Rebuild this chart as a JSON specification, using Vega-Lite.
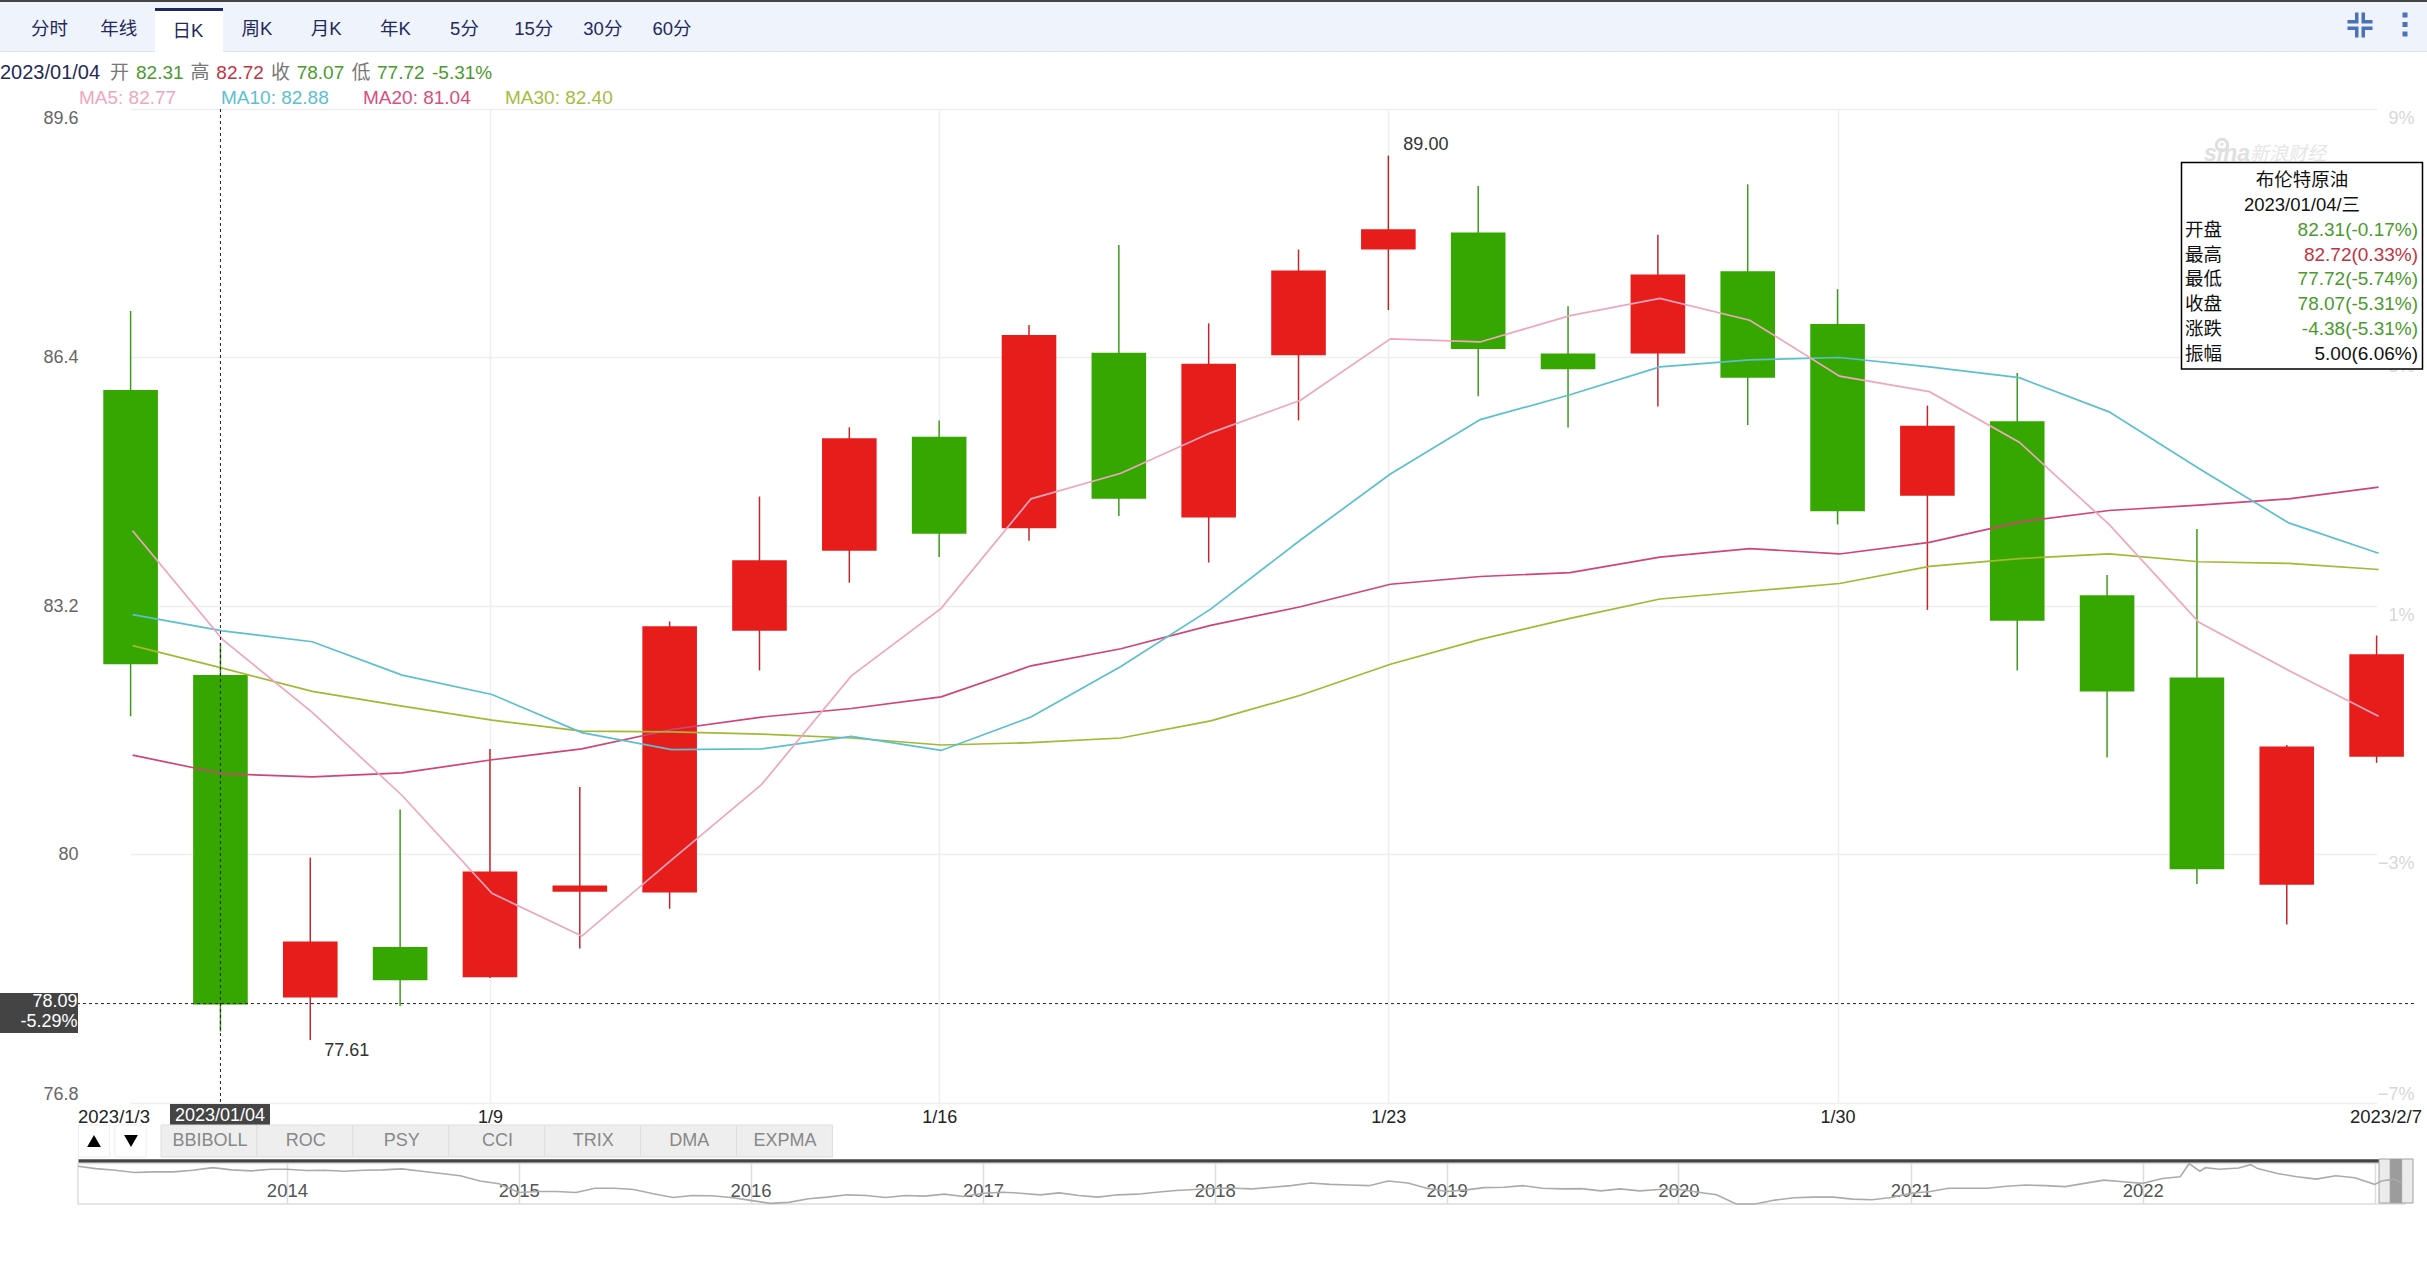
{
  "$schema": "https://vega.github.io/schema/vega-lite/v6.json",
  "width": 2336,
  "height": 994,
  "autosize": "none",
  "padding": {"left": 78, "top": 109, "right": 13, "bottom": 163},
  "background": "#ffffff",
  "config": {"font": "Liberation Sans, Noto Sans CJK SC", "view": {"stroke": null}},
  "resolve": {"scale": {"x": "independent", "y": "independent", "color": "independent"}},
  "layer": [
    {
      "data": {"values": [{"part": "strip"}]},
      "mark": {"type": "rect", "color": "#454545"},
      "encoding": {
        "x": {"field": "part", "type": "nominal", "axis": null, "scale": {"type": "band", "range": [-78, 2349], "padding": 0}},
        "y": {"field": "part", "type": "nominal", "axis": null, "scale": {"type": "band", "range": [-109, -107], "padding": 0}}
      }
    },
    {
      "data": {"values": [{"part": "toolbar"}]},
      "mark": {"type": "rect", "color": "#EEF3FC"},
      "encoding": {
        "x": {"field": "part", "type": "nominal", "axis": null, "scale": {"type": "band", "range": [-78, 2349], "padding": 0}},
        "y": {"field": "part", "type": "nominal", "axis": null, "scale": {"type": "band", "range": [-107, -58], "padding": 0}}
      }
    },
    {
      "data": {"values": [{"part": "edge"}]},
      "mark": {"type": "rect", "color": "#DDE3EE"},
      "encoding": {
        "x": {"field": "part", "type": "nominal", "axis": null, "scale": {"type": "band", "range": [-78, 2349], "padding": 0}},
        "y": {"field": "part", "type": "nominal", "axis": null, "scale": {"type": "band", "range": [-58, -57], "padding": 0}}
      }
    },
    {
      "data": {"values": [{"part": "active"}]},
      "mark": {"type": "rect", "color": "#ffffff"},
      "encoding": {
        "x": {"field": "part", "type": "nominal", "axis": null, "scale": {"type": "band", "range": [77, 145], "padding": 0}},
        "y": {"field": "part", "type": "nominal", "axis": null, "scale": {"type": "band", "range": [-101, -57], "padding": 0}}
      }
    },
    {
      "data": {"values": [{"part": "accent"}]},
      "mark": {"type": "rect", "color": "#1A2A5E"},
      "encoding": {
        "x": {"field": "part", "type": "nominal", "axis": null, "scale": {"type": "band", "range": [77, 145], "padding": 0}},
        "y": {"field": "part", "type": "nominal", "axis": null, "scale": {"type": "band", "range": [-101, -98], "padding": 0}}
      }
    },
    {
      "data": {"values": [
        {"tab": "分时", "state": "normal"},
        {"tab": "年线", "state": "normal"},
        {"tab": "日K", "state": "active"},
        {"tab": "周K", "state": "normal"},
        {"tab": "月K", "state": "normal"},
        {"tab": "年K", "state": "normal"},
        {"tab": "5分", "state": "normal"},
        {"tab": "15分", "state": "normal"},
        {"tab": "30分", "state": "normal"},
        {"tab": "60分", "state": "normal"}
      ]},
      "mark": {"type": "text", "fontSize": 18.5, "color": "#1F2A5A", "align": "center", "baseline": "middle"},
      "encoding": {
        "text": {"field": "tab"},
        "x": {"field": "tab", "type": "nominal", "sort": null, "axis": null, "scale": {"type": "point", "padding": 0, "range": [-28.5, 594]}},
        "y": {"field": "state", "type": "nominal", "axis": null, "scale": {"type": "point", "padding": 0, "domain": ["normal", "active"], "range": [-80, -78]}}
      }
    },
    {
      "data": {"values": [{"icon": "collapse"}]},
      "mark": {"type": "point", "filled": true, "color": "#4A72B8", "opacity": 1, "size": 625,
        "shape": "M-0.4,-1H-0.12V-0.12H-1V-0.4H-0.4ZM0.12,-1H0.4V-0.4H1V-0.12H0.12ZM-1,0.12H-0.12V1H-0.4V0.4H-1ZM0.12,0.12H1V0.4H0.4V1H0.12Z"},
      "encoding": {
        "x": {"field": "icon", "type": "nominal", "axis": null, "scale": {"type": "point", "range": [2282, 2282]}},
        "y": {"field": "icon", "type": "nominal", "axis": null, "scale": {"type": "point", "range": [-84, -84]}}
      }
    },
    {
      "data": {"values": [{"icon": "menu", "dot": "a"}, {"icon": "menu", "dot": "b"}, {"icon": "menu", "dot": "c"}]},
      "mark": {"type": "point", "filled": true, "color": "#4A72B8", "opacity": 1, "size": 25, "shape": "square"},
      "encoding": {
        "x": {"field": "icon", "type": "nominal", "axis": null, "scale": {"type": "point", "range": [2327, 2327]}},
        "y": {"field": "dot", "type": "nominal", "axis": null, "scale": {"type": "point", "padding": 0, "range": [-94, -75]}}
      }
    },
    {
      "data": {"values": [{"t": "2023/01/04", "row": "ohlc"}]},
      "mark": {"type": "text", "fontSize": 20, "color": "#1F2A5A", "align": "left", "baseline": "middle"},
      "encoding": {
        "text": {"field": "t"},
        "x": {"field": "t", "type": "nominal", "axis": null, "scale": {"type": "point", "range": [-78, -78]}},
        "y": {"field": "row", "type": "nominal", "axis": null, "scale": {"type": "point", "range": [-36, -36]}}
      }
    },
    {
      "data": {"values": [
        {"t": "开", "row": "ohlc", "tone": "label"},
        {"t": "高", "row": "ohlc", "tone": "label"},
        {"t": "收", "row": "ohlc", "tone": "label"},
        {"t": "低", "row": "ohlc", "tone": "label"},
        {"t": "-5.31%", "row": "ohlc", "tone": "down"}
      ]},
      "mark": {"type": "text", "fontSize": 19, "align": "left", "baseline": "middle"},
      "encoding": {
        "text": {"field": "t"},
        "x": {"field": "t", "type": "nominal", "sort": null, "axis": null, "scale": {"type": "point", "padding": 0, "range": [32, 354]}},
        "y": {"field": "row", "type": "nominal", "axis": null, "scale": {"type": "point", "range": [-36, -36]}},
        "color": {"field": "tone", "type": "nominal", "legend": null, "scale": {"domain": ["label", "down"], "range": ["#777777", "#4A9A2C"]}}
      }
    },
    {
      "data": {"values": [
        {"t": "82.31", "row": "ohlc", "tone": "down"},
        {"t": "82.72", "row": "ohlc", "tone": "up"},
        {"t": "78.07", "row": "ohlc", "tone": "down"},
        {"t": "77.72", "row": "ohlc", "tone": "down"}
      ]},
      "mark": {"type": "text", "fontSize": 19, "align": "left", "baseline": "middle"},
      "encoding": {
        "text": {"field": "t"},
        "x": {"field": "t", "type": "nominal", "sort": null, "axis": null, "scale": {"type": "point", "padding": 0, "range": [58, 299]}},
        "y": {"field": "row", "type": "nominal", "axis": null, "scale": {"type": "point", "range": [-36, -36]}},
        "color": {"field": "tone", "type": "nominal", "legend": null, "scale": {"domain": ["up", "down"], "range": ["#C2333F", "#4A9A2C"]}}
      }
    },
    {
      "data": {"values": [
        {"t": "MA5: 82.77", "row": "ma", "series": "MA5"},
        {"t": "MA10: 82.88", "row": "ma", "series": "MA10"},
        {"t": "MA20: 81.04", "row": "ma", "series": "MA20"},
        {"t": "MA30: 82.40", "row": "ma", "series": "MA30"}
      ]},
      "mark": {"type": "text", "fontSize": 19, "align": "left", "baseline": "middle"},
      "encoding": {
        "text": {"field": "t"},
        "x": {"field": "t", "type": "nominal", "sort": null, "axis": null, "scale": {"type": "point", "padding": 0, "range": [1, 427]}},
        "y": {"field": "row", "type": "nominal", "axis": null, "scale": {"type": "point", "range": [-11, -11]}},
        "color": {"field": "series", "type": "nominal", "legend": null, "scale": {"domain": ["MA5", "MA10", "MA20", "MA30"], "range": ["#EFA6C0", "#5BBFD0", "#D94D80", "#A8BA3C"]}}
      }
    },
    {
      "data": {"values": [{"pct": 9, "col": "pct"}, {"pct": -7, "col": "pct"}]},
      "mark": {"type": "point", "opacity": 0},
      "encoding": {
        "x": {"field": "col", "type": "nominal", "axis": null, "scale": {"type": "point", "range": [2336, 2336]}},
        "y": {
          "field": "pct", "type": "quantitative",
          "scale": {"domain": [-7, 9], "range": [994, 0], "nice": false, "zero": false},
          "axis": {"orient": "right", "values": [9, 5, 1, -3, -7], "format": "d", "labelExpr": "datum.label + '%'", "title": null, "domain": false, "ticks": false, "grid": false, "labelAlign": "right", "labelPadding": 0, "labelBaseline": {"condition": {"test": "datum.value == -7", "value": "bottom"}, "value": "top"}, "labelColor": "#D8D8D8", "labelFontSize": 18}
        }
      }
    },
    {
      "data": {"values": [{"t": "logo"}]},
      "mark": {"type": "point", "filled": false, "color": "#DEDEDE", "opacity": 1, "size": 130, "strokeWidth": 3},
      "encoding": {
        "x": {"field": "t", "type": "nominal", "axis": null, "scale": {"type": "point", "range": [2144, 2144]}},
        "y": {"field": "t", "type": "nominal", "axis": null, "scale": {"type": "point", "range": [36, 36]}}
      }
    },
    {
      "data": {"values": [{"t": "sina"}]},
      "mark": {"type": "text", "fontSize": 23, "fontWeight": "bold", "fontStyle": "italic", "color": "#E0E0E0", "align": "left", "baseline": "middle"},
      "encoding": {
        "text": {"field": "t"},
        "x": {"field": "t", "type": "nominal", "axis": null, "scale": {"type": "point", "range": [2126, 2126]}},
        "y": {"field": "t", "type": "nominal", "axis": null, "scale": {"type": "point", "range": [45, 45]}}
      }
    },
    {
      "data": {"values": [{"t": "新浪财经"}]},
      "mark": {"type": "text", "fontSize": 19, "fontStyle": "italic", "color": "#E6E6E6", "align": "left", "baseline": "middle"},
      "encoding": {
        "text": {"field": "t"},
        "x": {"field": "t", "type": "nominal", "axis": null, "scale": {"type": "point", "range": [2172, 2172]}},
        "y": {"field": "t", "type": "nominal", "axis": null, "scale": {"type": "point", "range": [45, 45]}}
      }
    },
    {
      "layer": [
        {
          "data": {"name": "candles", "values": [
            {"date": "1/3", "open": 85.98, "close": 82.45, "high": 87.0, "low": 81.78},
            {"date": "1/4", "open": 82.31, "close": 78.07, "high": 82.72, "low": 77.72},
            {"date": "1/5", "open": 78.16, "close": 78.88, "high": 79.96, "low": 77.61},
            {"date": "1/6", "open": 78.81, "close": 78.38, "high": 80.58, "low": 78.05},
            {"date": "1/9", "open": 78.42, "close": 79.78, "high": 81.36, "low": 78.41},
            {"date": "1/10", "open": 79.52, "close": 79.6, "high": 80.87, "low": 78.79},
            {"date": "1/11", "open": 79.51, "close": 82.94, "high": 83.0, "low": 79.3},
            {"date": "1/12", "open": 82.88, "close": 83.79, "high": 84.61, "low": 82.37},
            {"date": "1/13", "open": 83.91, "close": 85.36, "high": 85.5, "low": 83.5},
            {"date": "1/16", "open": 85.38, "close": 84.13, "high": 85.59, "low": 83.83},
            {"date": "1/17", "open": 84.2, "close": 86.69, "high": 86.82, "low": 84.04},
            {"date": "1/18", "open": 86.46, "close": 84.58, "high": 87.85, "low": 84.36},
            {"date": "1/19", "open": 84.34, "close": 86.32, "high": 86.84, "low": 83.76},
            {"date": "1/20", "open": 86.43, "close": 87.52, "high": 87.79, "low": 85.59},
            {"date": "1/23", "open": 87.79, "close": 88.05, "high": 89.0, "low": 87.01},
            {"date": "1/24", "open": 88.01, "close": 86.51, "high": 88.61, "low": 85.9},
            {"date": "1/25", "open": 86.45, "close": 86.25, "high": 87.06, "low": 85.5},
            {"date": "1/26", "open": 86.45, "close": 87.47, "high": 87.98, "low": 85.77},
            {"date": "1/27", "open": 87.51, "close": 86.14, "high": 88.63, "low": 85.53},
            {"date": "1/30", "open": 86.83, "close": 84.42, "high": 87.28, "low": 84.25},
            {"date": "1/31", "open": 84.62, "close": 85.52, "high": 85.78, "low": 83.15},
            {"date": "2/1", "open": 85.58, "close": 83.01, "high": 86.2, "low": 82.37},
            {"date": "2/2", "open": 83.34, "close": 82.1, "high": 83.6, "low": 81.25},
            {"date": "2/3", "open": 82.28, "close": 79.81, "high": 84.19, "low": 79.62},
            {"date": "2/6", "open": 79.61, "close": 81.39, "high": 81.41, "low": 79.1},
            {"date": "2/7", "open": 81.26, "close": 82.58, "high": 82.82, "low": 81.18}
          ]},
          "mark": {"type": "rule", "strokeWidth": 1.5},
          "encoding": {
            "x": {
              "field": "date", "type": "nominal", "sort": null, "title": null,
              "scale": {"type": "point", "padding": 0, "range": [52.6, 2298.6]},
              "axis": {"values": ["1/9", "1/16", "1/23", "1/30"], "labelAngle": 0, "domain": false, "ticks": false, "grid": true, "gridColor": "#EEEEEE", "gridWidth": 1.5, "labelFontSize": 18, "labelColor": "#222222", "labelPadding": 5}
            },
            "y": {
              "field": "low", "type": "quantitative", "title": null,
              "scale": {"domain": [76.8, 89.6], "range": [994, 0], "nice": false, "zero": false},
              "axis": {"values": [76.8, 80, 83.2, 86.4, 89.6], "format": ".3~r", "domain": false, "ticks": false, "grid": true, "gridColor": "#EEEEEE", "gridWidth": 1.5, "labelFontSize": 18, "labelColor": "#666666", "labelPadding": 0, "labelFlush": true}
            },
            "y2": {"field": "high"},
            "color": {"condition": {"test": "datum.close >= datum.open", "value": "#C0272D"}, "value": "#3E9A1E"}
          }
        },
        {
          "data": {"name": "candles"},
          "mark": {"type": "bar", "size": 54.6},
          "encoding": {
            "x": {"field": "date", "type": "nominal", "sort": null},
            "y": {"field": "open", "type": "quantitative"},
            "y2": {"field": "close"},
            "color": {"condition": {"test": "datum.close >= datum.open", "value": "#E71D1C"}, "value": "#36A600"}
          }
        },
        {
          "data": {"values": [
            {"date": "1/3", "series": "MA20", "value": 81.28},
            {"date": "1/4", "series": "MA20", "value": 81.04},
            {"date": "1/5", "series": "MA20", "value": 81.0},
            {"date": "1/6", "series": "MA20", "value": 81.05},
            {"date": "1/9", "series": "MA20", "value": 81.22},
            {"date": "1/10", "series": "MA20", "value": 81.36},
            {"date": "1/11", "series": "MA20", "value": 81.61},
            {"date": "1/12", "series": "MA20", "value": 81.77},
            {"date": "1/13", "series": "MA20", "value": 81.88},
            {"date": "1/16", "series": "MA20", "value": 82.03},
            {"date": "1/17", "series": "MA20", "value": 82.43},
            {"date": "1/18", "series": "MA20", "value": 82.65},
            {"date": "1/19", "series": "MA20", "value": 82.95},
            {"date": "1/20", "series": "MA20", "value": 83.19},
            {"date": "1/23", "series": "MA20", "value": 83.48},
            {"date": "1/24", "series": "MA20", "value": 83.58},
            {"date": "1/25", "series": "MA20", "value": 83.63},
            {"date": "1/26", "series": "MA20", "value": 83.83},
            {"date": "1/27", "series": "MA20", "value": 83.94},
            {"date": "1/30", "series": "MA20", "value": 83.87},
            {"date": "1/31", "series": "MA20", "value": 84.02},
            {"date": "2/1", "series": "MA20", "value": 84.28},
            {"date": "2/2", "series": "MA20", "value": 84.43},
            {"date": "2/3", "series": "MA20", "value": 84.5},
            {"date": "2/6", "series": "MA20", "value": 84.58},
            {"date": "2/7", "series": "MA20", "value": 84.73},
            {"date": "1/3", "series": "MA30", "value": 82.69},
            {"date": "1/4", "series": "MA30", "value": 82.4},
            {"date": "1/5", "series": "MA30", "value": 82.1},
            {"date": "1/6", "series": "MA30", "value": 81.91},
            {"date": "1/9", "series": "MA30", "value": 81.73},
            {"date": "1/10", "series": "MA30", "value": 81.59},
            {"date": "1/11", "series": "MA30", "value": 81.58},
            {"date": "1/12", "series": "MA30", "value": 81.55},
            {"date": "1/13", "series": "MA30", "value": 81.5},
            {"date": "1/16", "series": "MA30", "value": 81.41},
            {"date": "1/17", "series": "MA30", "value": 81.44},
            {"date": "1/18", "series": "MA30", "value": 81.5},
            {"date": "1/19", "series": "MA30", "value": 81.72},
            {"date": "1/20", "series": "MA30", "value": 82.05},
            {"date": "1/23", "series": "MA30", "value": 82.45},
            {"date": "1/24", "series": "MA30", "value": 82.77},
            {"date": "1/25", "series": "MA30", "value": 83.04},
            {"date": "1/26", "series": "MA30", "value": 83.29},
            {"date": "1/27", "series": "MA30", "value": 83.39},
            {"date": "1/30", "series": "MA30", "value": 83.49},
            {"date": "1/31", "series": "MA30", "value": 83.71},
            {"date": "2/1", "series": "MA30", "value": 83.81},
            {"date": "2/2", "series": "MA30", "value": 83.87},
            {"date": "2/3", "series": "MA30", "value": 83.77},
            {"date": "2/6", "series": "MA30", "value": 83.75},
            {"date": "2/7", "series": "MA30", "value": 83.67},
            {"date": "1/3", "series": "MA10", "value": 83.09},
            {"date": "1/4", "series": "MA10", "value": 82.88},
            {"date": "1/5", "series": "MA10", "value": 82.74},
            {"date": "1/6", "series": "MA10", "value": 82.31},
            {"date": "1/9", "series": "MA10", "value": 82.06},
            {"date": "1/10", "series": "MA10", "value": 81.57},
            {"date": "1/11", "series": "MA10", "value": 81.35},
            {"date": "1/12", "series": "MA10", "value": 81.36},
            {"date": "1/13", "series": "MA10", "value": 81.52},
            {"date": "1/16", "series": "MA10", "value": 81.34},
            {"date": "1/17", "series": "MA10", "value": 81.77},
            {"date": "1/18", "series": "MA10", "value": 82.42},
            {"date": "1/19", "series": "MA10", "value": 83.16},
            {"date": "1/20", "series": "MA10", "value": 84.05},
            {"date": "1/23", "series": "MA10", "value": 84.9},
            {"date": "1/24", "series": "MA10", "value": 85.6},
            {"date": "1/25", "series": "MA10", "value": 85.92},
            {"date": "1/26", "series": "MA10", "value": 86.28},
            {"date": "1/27", "series": "MA10", "value": 86.37},
            {"date": "1/30", "series": "MA10", "value": 86.4},
            {"date": "1/31", "series": "MA10", "value": 86.28},
            {"date": "2/1", "series": "MA10", "value": 86.14},
            {"date": "2/2", "series": "MA10", "value": 85.7},
            {"date": "2/3", "series": "MA10", "value": 84.97},
            {"date": "2/6", "series": "MA10", "value": 84.27},
            {"date": "2/7", "series": "MA10", "value": 83.88},
            {"date": "1/3", "series": "MA5", "value": 84.17},
            {"date": "1/4", "series": "MA5", "value": 82.77},
            {"date": "1/5", "series": "MA5", "value": 81.83},
            {"date": "1/6", "series": "MA5", "value": 80.76},
            {"date": "1/9", "series": "MA5", "value": 79.5},
            {"date": "1/10", "series": "MA5", "value": 78.95},
            {"date": "1/11", "series": "MA5", "value": 79.93},
            {"date": "1/12", "series": "MA5", "value": 80.9},
            {"date": "1/13", "series": "MA5", "value": 82.3},
            {"date": "1/16", "series": "MA5", "value": 83.17},
            {"date": "1/17", "series": "MA5", "value": 84.58},
            {"date": "1/18", "series": "MA5", "value": 84.91},
            {"date": "1/19", "series": "MA5", "value": 85.43},
            {"date": "1/20", "series": "MA5", "value": 85.85},
            {"date": "1/23", "series": "MA5", "value": 86.64},
            {"date": "1/24", "series": "MA5", "value": 86.6},
            {"date": "1/25", "series": "MA5", "value": 86.94},
            {"date": "1/26", "series": "MA5", "value": 87.16},
            {"date": "1/27", "series": "MA5", "value": 86.88},
            {"date": "1/30", "series": "MA5", "value": 86.16},
            {"date": "1/31", "series": "MA5", "value": 85.96},
            {"date": "2/1", "series": "MA5", "value": 85.31},
            {"date": "2/2", "series": "MA5", "value": 84.25},
            {"date": "2/3", "series": "MA5", "value": 82.99},
            {"date": "2/6", "series": "MA5", "value": 82.37},
            {"date": "2/7", "series": "MA5", "value": 81.78}
          ]},
          "mark": {"type": "line", "strokeWidth": 1.7, "xOffset": 2},
          "encoding": {
            "x": {"field": "date", "type": "nominal", "sort": null},
            "y": {"field": "value", "type": "quantitative"},
            "color": {"field": "series", "type": "nominal", "legend": null, "sort": null, "scale": {"domain": ["MA5", "MA10", "MA20", "MA30"], "range": ["#EFA6C0", "#5BBFD0", "#D0447A", "#A3B833"]}}
          }
        },
        {
          "data": {"values": [{"date": "1/4"}]},
          "mark": {"type": "rule", "color": "#222222", "strokeDash": [3, 3], "strokeWidth": 1},
          "encoding": {"x": {"field": "date", "type": "nominal", "sort": null}}
        },
        {
          "data": {"values": [{"price": 78.08}]},
          "mark": {"type": "rule", "color": "#222222", "strokeDash": [3, 3], "strokeWidth": 1},
          "encoding": {"y": {"field": "price", "type": "quantitative"}}
        },
        {
          "data": {"values": [{"date": "1/5", "low": 77.61, "label": "77.61"}]},
          "mark": {"type": "text", "fontSize": 18, "color": "#333333", "align": "left", "baseline": "middle", "dx": 14, "dy": 11},
          "encoding": {
            "x": {"field": "date", "type": "nominal", "sort": null},
            "y": {"field": "low", "type": "quantitative"},
            "text": {"field": "label"}
          }
        },
        {
          "data": {"values": [{"date": "1/23", "high": 89.0, "label": "89.00"}]},
          "mark": {"type": "text", "fontSize": 18, "color": "#333333", "align": "left", "baseline": "middle", "dx": 15, "dy": -11},
          "encoding": {
            "x": {"field": "date", "type": "nominal", "sort": null},
            "y": {"field": "high", "type": "quantitative"},
            "text": {"field": "label"}
          }
        }
      ]
    },
    {
      "data": {"values": [{"part": "priceTag"}]},
      "mark": {"type": "rect", "color": "#444444"},
      "encoding": {
        "x": {"field": "part", "type": "nominal", "axis": null, "scale": {"type": "band", "range": [-78, 0], "padding": 0}},
        "y": {"field": "part", "type": "nominal", "axis": null, "scale": {"type": "band", "range": [884, 924], "padding": 0}}
      }
    },
    {
      "data": {"values": [{"t": "78.09", "col": "tag"}, {"t": "-5.29%", "col": "tag"}]},
      "mark": {"type": "text", "fontSize": 18, "color": "#ffffff", "align": "right", "baseline": "middle"},
      "encoding": {
        "text": {"field": "t"},
        "x": {"field": "col", "type": "nominal", "axis": null, "scale": {"type": "point", "range": [-0.5, -0.5]}},
        "y": {"field": "t", "type": "nominal", "sort": null, "axis": null, "scale": {"type": "point", "padding": 0, "range": [893, 913]}}
      }
    },
    {
      "data": {"values": [{"part": "dateTag"}]},
      "mark": {"type": "rect", "color": "#444444"},
      "encoding": {
        "x": {"field": "part", "type": "nominal", "axis": null, "scale": {"type": "band", "range": [92, 192], "padding": 0}},
        "y": {"field": "part", "type": "nominal", "axis": null, "scale": {"type": "band", "range": [995, 1017.5], "padding": 0}}
      }
    },
    {
      "data": {"values": [{"t": "2023/01/04"}]},
      "mark": {"type": "text", "fontSize": 18, "color": "#ffffff", "align": "center", "baseline": "middle"},
      "encoding": {
        "text": {"field": "t"},
        "x": {"field": "t", "type": "nominal", "axis": null, "scale": {"type": "point", "range": [142, 142]}},
        "y": {"field": "t", "type": "nominal", "axis": null, "scale": {"type": "point", "range": [1007, 1007]}}
      }
    },
    {
      "data": {"values": [{"t": "2023/1/3"}]},
      "mark": {"type": "text", "fontSize": 18.5, "color": "#222222", "align": "left", "baseline": "middle"},
      "encoding": {
        "text": {"field": "t"},
        "x": {"field": "t", "type": "nominal", "axis": null, "scale": {"type": "point", "range": [0, 0]}},
        "y": {"field": "t", "type": "nominal", "axis": null, "scale": {"type": "point", "range": [1008, 1008]}}
      }
    },
    {
      "data": {"values": [{"t": "2023/2/7"}]},
      "mark": {"type": "text", "fontSize": 18.5, "color": "#222222", "align": "right", "baseline": "middle"},
      "encoding": {
        "text": {"field": "t"},
        "x": {"field": "t", "type": "nominal", "axis": null, "scale": {"type": "point", "range": [2344, 2344]}},
        "y": {"field": "t", "type": "nominal", "axis": null, "scale": {"type": "point", "range": [1008, 1008]}}
      }
    },
    {
      "data": {"values": [{"part": "up", "row": "arrows"}, {"part": "down", "row": "arrows"}]},
      "mark": {"type": "rect", "color": "#ffffff", "stroke": "#EEEEEE", "strokeWidth": 1},
      "encoding": {
        "x": {"field": "part", "type": "nominal", "sort": null, "axis": null, "scale": {"type": "band", "range": [0.5, 68], "paddingInner": 0.14, "paddingOuter": 0}},
        "y": {"field": "row", "type": "nominal", "axis": null, "scale": {"type": "band", "range": [1016, 1048], "padding": 0}}
      }
    },
    {
      "data": {"values": [{"dir": "up", "shape": "triangle-up"}, {"dir": "down", "shape": "triangle-down"}]},
      "mark": {"type": "point", "filled": true, "color": "#000000", "opacity": 1, "size": 190},
      "encoding": {
        "x": {"field": "dir", "type": "nominal", "sort": null, "axis": null, "scale": {"type": "point", "padding": 0, "range": [16, 53]}},
        "y": {"field": "shape", "type": "nominal", "axis": null, "scale": {"type": "point", "padding": 0, "range": [1032, 1032]}},
        "shape": {"field": "shape", "type": "nominal", "legend": null, "scale": null}
      }
    },
    {
      "data": {"values": [
        {"name": "BBIBOLL", "row": "ind"},
        {"name": "ROC", "row": "ind"},
        {"name": "PSY", "row": "ind"},
        {"name": "CCI", "row": "ind"},
        {"name": "TRIX", "row": "ind"},
        {"name": "DMA", "row": "ind"},
        {"name": "EXPMA", "row": "ind"}
      ]},
      "mark": {"type": "rect", "color": "#EEEEEE", "stroke": "#DDDDDD", "strokeWidth": 1},
      "encoding": {
        "x": {"field": "name", "type": "nominal", "sort": null, "axis": null, "scale": {"type": "band", "padding": 0, "range": [83, 754.4]}},
        "y": {"field": "row", "type": "nominal", "axis": null, "scale": {"type": "band", "padding": 0, "range": [1016, 1048]}}
      }
    },
    {
      "data": {"values": [
        {"name": "BBIBOLL", "row": "ind"},
        {"name": "ROC", "row": "ind"},
        {"name": "PSY", "row": "ind"},
        {"name": "CCI", "row": "ind"},
        {"name": "TRIX", "row": "ind"},
        {"name": "DMA", "row": "ind"},
        {"name": "EXPMA", "row": "ind"}
      ]},
      "mark": {"type": "text", "fontSize": 18, "color": "#888888", "align": "center", "baseline": "middle"},
      "encoding": {
        "text": {"field": "name"},
        "x": {"field": "name", "type": "nominal", "sort": null, "axis": null, "scale": {"type": "point", "padding": 0, "range": [132, 707]}},
        "y": {"field": "row", "type": "nominal", "axis": null, "scale": {"type": "point", "range": [1032, 1032]}}
      }
    },
    {
      "data": {"values": [{"part": "navFrame"}]},
      "mark": {"type": "rect", "fill": "transparent", "stroke": "#DDDDDD", "strokeWidth": 1.5},
      "encoding": {
        "x": {"field": "part", "type": "nominal", "axis": null, "scale": {"type": "band", "padding": 0, "range": [0, 2327]}},
        "y": {"field": "part", "type": "nominal", "axis": null, "scale": {"type": "band", "padding": 0, "range": [1054.5, 1095]}}
      }
    },
    {
      "data": {"values": [{"part": "handleL", "tone": "handle", "row": "sel"}, {"part": "window", "tone": "window", "row": "sel"}, {"part": "handleR", "tone": "handle", "row": "sel"}]},
      "mark": {"type": "rect", "stroke": "#A0A0A0", "strokeWidth": 1},
      "encoding": {
        "x": {"field": "part", "type": "nominal", "sort": null, "axis": null, "scale": {"type": "band", "padding": 0, "range": [2301, 2335]}},
        "y": {"field": "row", "type": "nominal", "axis": null, "scale": {"type": "band", "padding": 0, "range": [1050, 1094]}},
        "color": {"field": "tone", "type": "nominal", "legend": null, "scale": {"domain": ["handle", "window"], "range": ["#EBEBEB", "#9C9C9C"]}}
      }
    },
    {
      "data": {"values": [
        {"month": "2013-02-06", "price": 118.2}, {"month": "2013-03-06", "price": 112.2}, {"month": "2013-04-06", "price": 108}, {"month": "2013-05-06", "price": 102},
        {"month": "2013-06-06", "price": 103.7}, {"month": "2013-07-06", "price": 103.7}, {"month": "2013-08-06", "price": 108}, {"month": "2013-09-06", "price": 114.8},
        {"month": "2013-10-06", "price": 108.8}, {"month": "2013-11-06", "price": 106.3}, {"month": "2013-12-06", "price": 110.5}, {"month": "2014-01-01", "price": 110.5},
        {"month": "2014-02-01", "price": 107.1}, {"month": "2014-03-01", "price": 108}, {"month": "2014-04-01", "price": 105.4}, {"month": "2014-05-01", "price": 108},
        {"month": "2014-06-01", "price": 108.8}, {"month": "2014-07-01", "price": 111.4}, {"month": "2014-08-01", "price": 105.4}, {"month": "2014-09-01", "price": 99.4},
        {"month": "2014-10-01", "price": 93.4}, {"month": "2014-11-01", "price": 79.8}, {"month": "2014-12-01", "price": 72.9}, {"month": "2015-01-01", "price": 49.9},
        {"month": "2015-02-01", "price": 52.5}, {"month": "2015-03-01", "price": 52.5}, {"month": "2015-04-01", "price": 49.9}, {"month": "2015-05-01", "price": 61},
        {"month": "2015-06-01", "price": 61}, {"month": "2015-07-01", "price": 57.6}, {"month": "2015-08-01", "price": 46.5}, {"month": "2015-09-01", "price": 37.1},
        {"month": "2015-10-01", "price": 42.2}, {"month": "2015-11-01", "price": 41.4}, {"month": "2015-12-01", "price": 37.1}, {"month": "2016-01-01", "price": 29.4},
        {"month": "2016-02-01", "price": 21.7}, {"month": "2016-03-01", "price": 24.3}, {"month": "2016-04-01", "price": 33.7}, {"month": "2016-05-01", "price": 37.9},
        {"month": "2016-06-01", "price": 43.9}, {"month": "2016-07-01", "price": 42.2}, {"month": "2016-08-01", "price": 37.1}, {"month": "2016-09-01", "price": 42.2},
        {"month": "2016-10-01", "price": 40.5}, {"month": "2016-11-01", "price": 45.6}, {"month": "2016-12-01", "price": 39.6}, {"month": "2017-01-01", "price": 48.2},
        {"month": "2017-02-01", "price": 50.7}, {"month": "2017-03-01", "price": 48.2}, {"month": "2017-04-01", "price": 43.9}, {"month": "2017-05-01", "price": 49},
        {"month": "2017-06-01", "price": 42.2}, {"month": "2017-07-01", "price": 37.9}, {"month": "2017-08-01", "price": 43.9}, {"month": "2017-09-01", "price": 45.6},
        {"month": "2017-10-01", "price": 50.7}, {"month": "2017-11-01", "price": 55}, {"month": "2017-12-01", "price": 57.6}, {"month": "2018-01-01", "price": 61},
        {"month": "2018-02-01", "price": 61}, {"month": "2018-03-01", "price": 59.3}, {"month": "2018-04-01", "price": 63.6}, {"month": "2018-05-01", "price": 67.8},
        {"month": "2018-06-01", "price": 74.7}, {"month": "2018-07-01", "price": 71.2}, {"month": "2018-08-01", "price": 69.5}, {"month": "2018-09-01", "price": 67.8},
        {"month": "2018-10-01", "price": 79.8}, {"month": "2018-11-01", "price": 74.7}, {"month": "2018-12-01", "price": 61}, {"month": "2019-01-01", "price": 52.5},
        {"month": "2019-02-01", "price": 56.7}, {"month": "2019-03-01", "price": 62.7}, {"month": "2019-04-01", "price": 63.6}, {"month": "2019-05-01", "price": 67.8},
        {"month": "2019-06-01", "price": 61}, {"month": "2019-07-01", "price": 59.3}, {"month": "2019-08-01", "price": 60.1}, {"month": "2019-09-01", "price": 54.2},
        {"month": "2019-10-01", "price": 59.3}, {"month": "2019-11-01", "price": 54.2}, {"month": "2019-12-01", "price": 57.6}, {"month": "2020-01-01", "price": 58.4},
        {"month": "2020-02-01", "price": 50.7}, {"month": "2020-03-01", "price": 43.9}, {"month": "2020-04-01", "price": 20}, {"month": "2020-05-01", "price": 20},
        {"month": "2020-06-01", "price": 30.2}, {"month": "2020-07-01", "price": 36.2}, {"month": "2020-08-01", "price": 37.9}, {"month": "2020-09-01", "price": 37.9},
        {"month": "2020-10-01", "price": 32.8}, {"month": "2020-11-01", "price": 31.1}, {"month": "2020-12-01", "price": 37.1}, {"month": "2021-01-01", "price": 48.2},
        {"month": "2021-02-01", "price": 52.5}, {"month": "2021-03-01", "price": 61}, {"month": "2021-04-01", "price": 61}, {"month": "2021-05-01", "price": 61},
        {"month": "2021-06-01", "price": 66.1}, {"month": "2021-07-01", "price": 69.5}, {"month": "2021-08-01", "price": 67.8}, {"month": "2021-09-01", "price": 65.3},
        {"month": "2021-10-01", "price": 73.8}, {"month": "2021-11-01", "price": 82.3}, {"month": "2021-12-01", "price": 78.1}, {"month": "2022-01-01", "price": 73.8},
        {"month": "2022-02-01", "price": 86.6}, {"month": "2022-03-01", "price": 90.9}, {"month": "2022-03-15", "price": 125}, {"month": "2022-04-01", "price": 105.4},
        {"month": "2022-04-10", "price": 114.8}, {"month": "2022-05-01", "price": 110.5}, {"month": "2022-06-01", "price": 113.9}, {"month": "2022-06-20", "price": 122.5},
        {"month": "2022-07-01", "price": 112.2}, {"month": "2022-08-01", "price": 99.4}, {"month": "2022-09-01", "price": 90.9}, {"month": "2022-10-01", "price": 84.9},
        {"month": "2022-11-01", "price": 93.4}, {"month": "2022-12-01", "price": 88.3}, {"month": "2023-01-01", "price": 71.2}, {"month": "2023-01-12", "price": 79.8},
        {"month": "2023-02-01", "price": 84.9}, {"month": "2023-02-13", "price": 73.8}
      ]},
      "mark": {"type": "line", "color": "#ABABAB", "strokeWidth": 1.6},
      "encoding": {
        "x": {
          "field": "month", "type": "temporal", "title": null,
          "scale": {"domain": [{"year": 2013, "month": 2, "date": 6}, {"year": 2023, "month": 2, "date": 18}], "range": [0, 2327], "nice": false},
          "axis": {
            "orient": "bottom", "offset": 57.5,
            "values": [{"year": 2014, "month": 1, "date": 1}, {"year": 2015, "month": 1, "date": 1}, {"year": 2016, "month": 1, "date": 1}, {"year": 2017, "month": 1, "date": 1}, {"year": 2018, "month": 1, "date": 1}, {"year": 2019, "month": 1, "date": 1}, {"year": 2020, "month": 1, "date": 1}, {"year": 2021, "month": 1, "date": 1}, {"year": 2022, "month": 1, "date": 1}, {"year": 2023, "month": 1, "date": 1}],
            "format": "%Y", "labelExpr": "year(datum.value) >= 2023 ? '' : datum.label",
            "grid": false, "domain": true, "domainColor": "#444444", "domainWidth": 3.5,
            "ticks": true, "tickColor": "#DDDDDD", "tickSize": 43, "tickWidth": 1.5,
            "labelFontSize": 18.5, "labelColor": "#555555", "labelPadding": -22.5, "labelAngle": 0, "labelFlush": false, "labelOverlap": false, "zindex": 0
          }
        },
        "y": {"field": "price", "type": "quantitative", "axis": null, "scale": {"domain": [20, 125], "range": [1095, 1054.7], "nice": false, "zero": false}}
      }
    },
    {
      "data": {"values": [{"part": "box"}]},
      "mark": {"type": "rect", "fill": "#ffffff", "stroke": "#000000", "strokeWidth": 1.5},
      "encoding": {
        "x": {"field": "part", "type": "nominal", "axis": null, "scale": {"type": "band", "padding": 0, "range": [2103.5, 2344.5]}},
        "y": {"field": "part", "type": "nominal", "axis": null, "scale": {"type": "band", "padding": 0, "range": [53.5, 260]}}
      }
    },
    {
      "data": {"values": [{"t": "布伦特原油", "col": "mid", "row": "r1"}, {"t": "2023/01/04/三", "col": "mid", "row": "r2"}]},
      "mark": {"type": "text", "fontSize": 18.5, "color": "#111111", "align": "center", "baseline": "middle"},
      "encoding": {
        "text": {"field": "t"},
        "x": {"field": "col", "type": "nominal", "axis": null, "scale": {"type": "point", "range": [2224, 2224]}},
        "y": {"field": "row", "type": "nominal", "axis": null, "scale": {"type": "point", "padding": 0, "domain": ["r1", "r2", "r3", "r4", "r5", "r6", "r7", "r8"], "range": [71, 245]}}
      }
    },
    {
      "data": {"values": [
        {"t": "开盘", "col": "left", "row": "r3"},
        {"t": "最高", "col": "left", "row": "r4"},
        {"t": "最低", "col": "left", "row": "r5"},
        {"t": "收盘", "col": "left", "row": "r6"},
        {"t": "涨跌", "col": "left", "row": "r7"},
        {"t": "振幅", "col": "left", "row": "r8"}
      ]},
      "mark": {"type": "text", "fontSize": 18.5, "color": "#111111", "align": "left", "baseline": "middle"},
      "encoding": {
        "text": {"field": "t"},
        "x": {"field": "col", "type": "nominal", "axis": null, "scale": {"type": "point", "range": [2107, 2107]}},
        "y": {"field": "row", "type": "nominal", "axis": null, "scale": {"type": "point", "padding": 0, "domain": ["r1", "r2", "r3", "r4", "r5", "r6", "r7", "r8"], "range": [71, 245]}}
      }
    },
    {
      "data": {"values": [
        {"t": "82.31(-0.17%)", "col": "right", "row": "r3", "tone": "down"},
        {"t": "82.72(0.33%)", "col": "right", "row": "r4", "tone": "up"},
        {"t": "77.72(-5.74%)", "col": "right", "row": "r5", "tone": "down"},
        {"t": "78.07(-5.31%)", "col": "right", "row": "r6", "tone": "down"},
        {"t": "-4.38(-5.31%)", "col": "right", "row": "r7", "tone": "down"},
        {"t": "5.00(6.06%)", "col": "right", "row": "r8", "tone": "flat"}
      ]},
      "mark": {"type": "text", "fontSize": 19, "align": "right", "baseline": "middle"},
      "encoding": {
        "text": {"field": "t"},
        "x": {"field": "col", "type": "nominal", "axis": null, "scale": {"type": "point", "range": [2340, 2340]}},
        "y": {"field": "row", "type": "nominal", "axis": null, "scale": {"type": "point", "padding": 0, "domain": ["r1", "r2", "r3", "r4", "r5", "r6", "r7", "r8"], "range": [71, 245]}},
        "color": {"field": "tone", "type": "nominal", "legend": null, "scale": {"domain": ["up", "down", "flat"], "range": ["#C2333F", "#4A9A2C", "#111111"]}}
      }
    }
  ]
}
